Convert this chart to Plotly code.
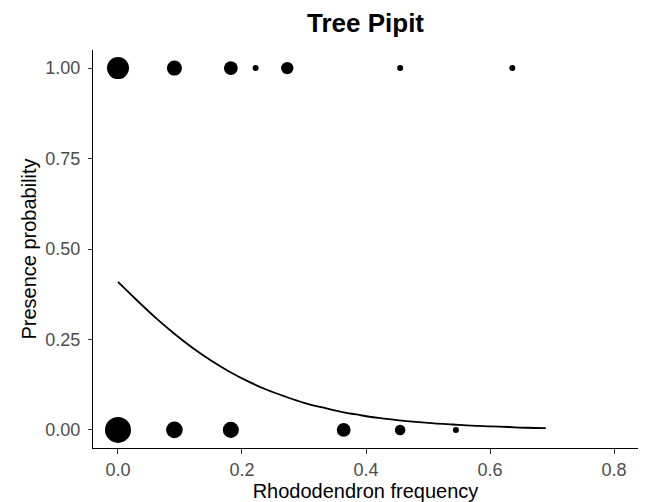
import numpy as np
import plotly.graph_objects as go

# Observed points (geom_count style): x = rhododendron frequency, y = presence (0/1), n = count
present_x = [0.0, 0.091, 0.182, 0.222, 0.273, 0.455, 0.636]
present_n = [26, 9, 7, 1, 5, 1, 1]
absent_x = [0.0, 0.091, 0.182, 0.364, 0.455, 0.545]
absent_n = [40, 12, 11, 7, 3, 1]

# Fitted curve values
curve_x = [0.0, 0.03, 0.06, 0.09, 0.12, 0.15, 0.18, 0.21, 0.24, 0.27, 0.30, 0.33,
           0.36, 0.39, 0.42, 0.45, 0.48, 0.51, 0.54, 0.57, 0.60, 0.63, 0.66, 0.69]
curve_y = [0.409, 0.359, 0.311, 0.267, 0.227, 0.192, 0.161, 0.134, 0.111, 0.092, 0.075, 0.062,
           0.050, 0.041, 0.033, 0.027, 0.022, 0.018, 0.015, 0.012, 0.010, 0.008, 0.006, 0.005]

x_ticks = [0.0, 0.2, 0.4, 0.6, 0.8]
y_ticks = [0.0, 0.25, 0.5, 0.75, 1.0]

all_n = present_n + absent_n
nmin, nmax = min(all_n), max(all_n)


def diam(ns):
    return [6 + 20 * np.sqrt((n - nmin) / (nmax - nmin)) for n in ns]


fig = go.Figure()
fig.add_trace(go.Scatter(x=curve_x, y=curve_y, mode="lines",
                         line=dict(color="black", width=1.8, shape="spline"),
                         hoverinfo="skip", showlegend=False))
fig.add_trace(go.Scatter(x=present_x, y=[1] * len(present_x), mode="markers",
                         marker=dict(color="#000000", opacity=1, size=diam(present_n),
                                     line=dict(width=0, color="#000000")),
                         opacity=1, showlegend=False))
fig.add_trace(go.Scatter(x=absent_x, y=[0] * len(absent_x), mode="markers",
                         marker=dict(color="#000000", opacity=1, size=diam(absent_n),
                                     line=dict(width=0, color="#000000")),
                         opacity=1, showlegend=False))

# The page body has an 8px default margin, so the figure is sized to fit the window after it.
W, H = 641, 494
font = "Liberation Sans, Arial, sans-serif"
fig.update_layout(
    template="none",
    width=W, height=H,
    margin=dict(l=85, r=11, t=42, b=54, autoexpand=False),
    paper_bgcolor="white", plot_bgcolor="white",
    font=dict(family=font, color="black"),
    title=dict(text="<b>Tree Pipit</b>", x=0.5, xref="paper", xanchor="center",
               y=1 - 15 / H, yref="container", yanchor="middle",
               font=dict(size=26, color="black", family=font)),
    xaxis=dict(range=[-0.0403, 0.8387], tickvals=x_ticks, tickformat=".1f", automargin=False,
               showgrid=False, zeroline=False, showline=True, linecolor="black", linewidth=1.1,
               ticks="outside", ticklen=5, tickcolor="#333333", tickwidth=1.1,
               tickfont=dict(size=18, color="#4D4D4D"),
               title=dict(text="Rhododendron frequency", font=dict(size=20, color="black"), standoff=5)),
    yaxis=dict(range=[-0.05, 1.05], tickvals=y_ticks, tickformat=".2f", automargin=False,
               showgrid=False, zeroline=False, showline=True, linecolor="black", linewidth=1.1,
               ticks="outside", ticklen=4, tickcolor="#333333", tickwidth=1.1,
               ticklabelstandoff=4,
               tickfont=dict(size=18, color="#4D4D4D"),
               title=dict(text="Presence probability", font=dict(size=20, color="black"), standoff=3)),
)

fig.write_html("out.html")
